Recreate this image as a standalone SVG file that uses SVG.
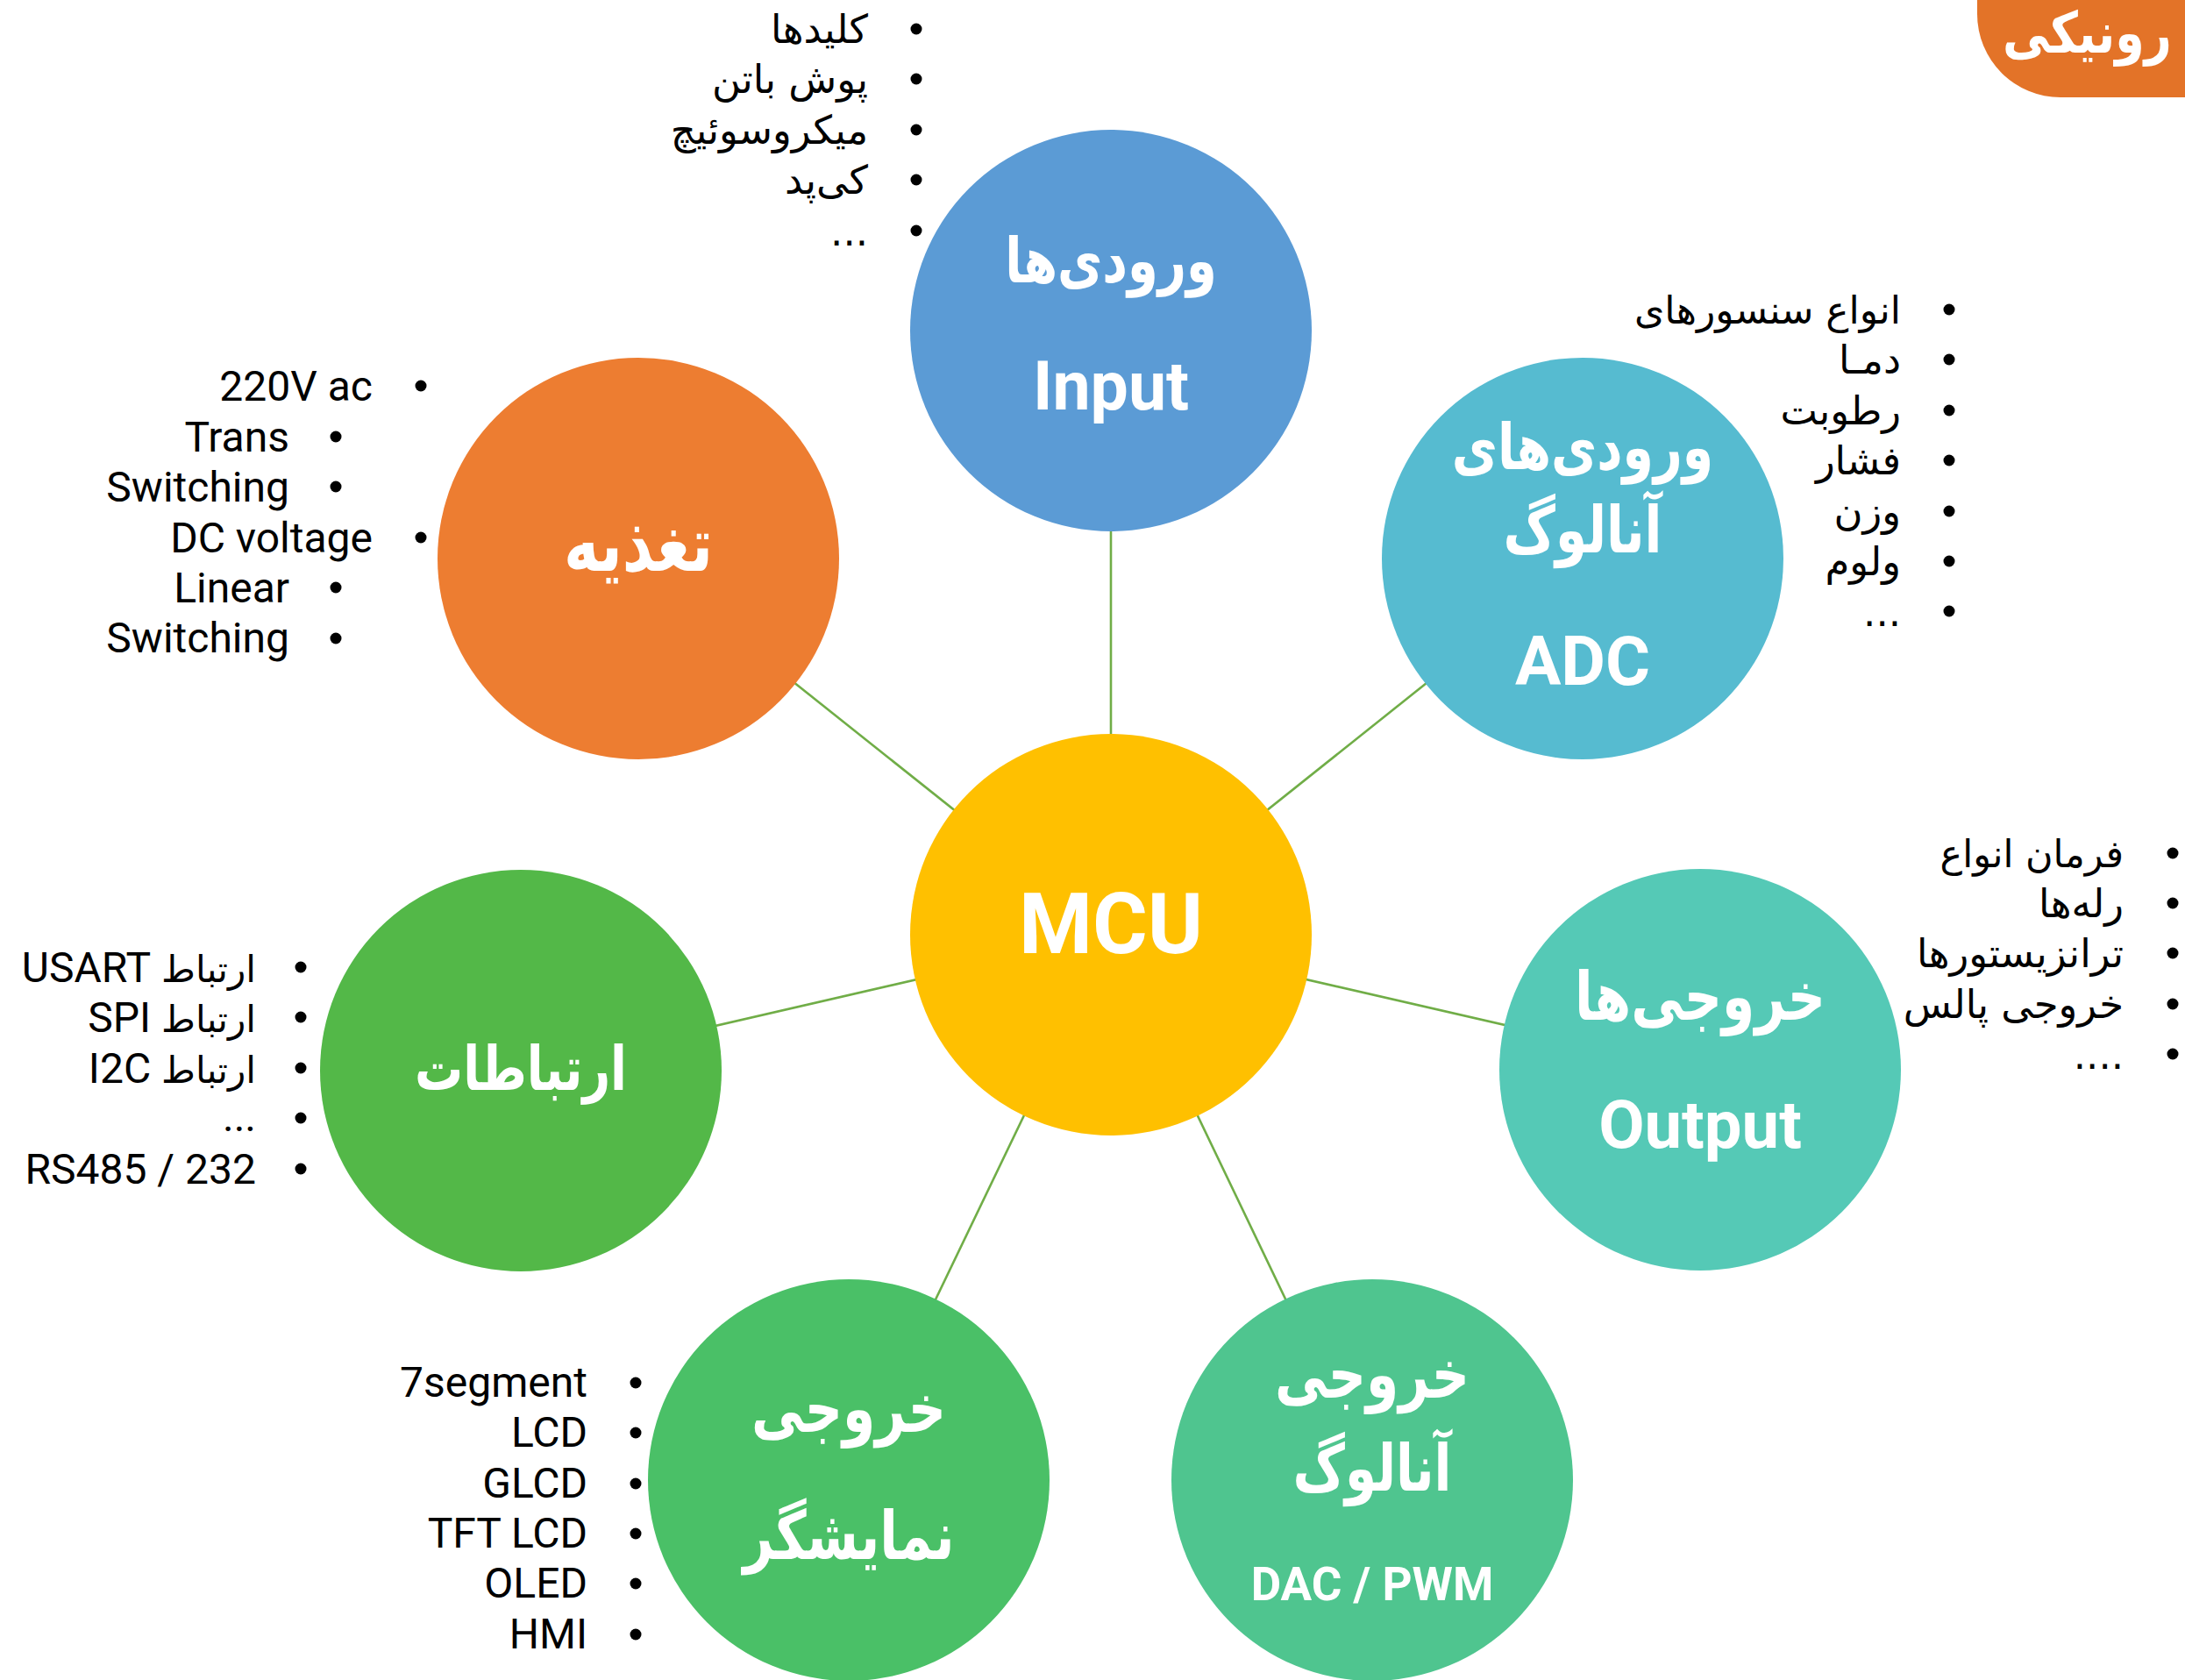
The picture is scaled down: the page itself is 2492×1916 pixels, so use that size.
<svg xmlns="http://www.w3.org/2000/svg" width="2492" height="1916" viewBox="0 0 2492 1916">
<style>
.bg{fill:#ffffff}
.conn{stroke:#70AD47;stroke-width:2.6;fill:none}
.li{font-family:Roboto,"DejaVu Sans",sans-serif;font-size:48px;fill:#000}
.fa{font-family:"DejaVu Sans",Roboto,sans-serif;font-size:45px;fill:#000}
.fs{font-family:"DejaVu Sans",sans-serif;font-size:42px}
.rtl{direction:rtl;unicode-bidi:embed;text-anchor:start}
.ltr{text-anchor:end}
.b{fill:#000}
.tl{font-family:Roboto,"DejaVu Sans",sans-serif;font-weight:700;fill:#fff;text-anchor:middle}
.tf{font-family:"DejaVu Sans",sans-serif;font-weight:700;fill:#fff;text-anchor:middle;font-size:60px}
</style>
<rect class="bg" x="0" y="0" width="2492" height="1916"/>

<g id="title-tab">
<rect x="2255" y="-130" width="420" height="241" rx="95" fill="#E37328"/>
<text transform="translate(2284,60) scale(1,1.2)" font-family="DejaVu Sans,sans-serif" font-weight="700" font-size="54" fill="#fff" style="direction:rtl;unicode-bidi:embed" text-anchor="end">رونیکی</text>
</g>

<g id="connectors">
<line class="conn" x1="1267" y1="1066" x2="1267" y2="377"/>
<line class="conn" x1="1267" y1="1066" x2="728" y2="637"/>
<line class="conn" x1="1267" y1="1066" x2="1805" y2="637"/>
<line class="conn" x1="1267" y1="1066" x2="594" y2="1221"/>
<line class="conn" x1="1267" y1="1066" x2="1939" y2="1220"/>
<line class="conn" x1="1267" y1="1066" x2="968" y2="1688"/>
<line class="conn" x1="1267" y1="1066" x2="1565" y2="1688"/>
</g>

<g id="node-input">
<circle cx="1267" cy="377" r="229" fill="#5B9BD5"/>
<text class="tf" transform="translate(1267,322) scale(1,1.28)" style="font-size:56px">ورودی‌ها</text>
<text class="tl" x="1267" y="467" font-size="77">Input</text>
</g>

<g id="node-power">
<circle cx="728" cy="637" r="229" fill="#ED7D31"/>
<text class="tf" transform="translate(728,651) scale(1,1.28)" style="font-size:68px">تغذیه</text>
</g>

<g id="node-adc">
<circle cx="1805" cy="637" r="229" fill="#56BBD0"/>
<text class="tf" transform="translate(1805,535) scale(1,1.28)" style="font-size:57px">ورودی‌های</text>
<text class="tf" transform="translate(1805,630) scale(1,1.28)" style="font-size:58px">آنالوگ</text>
<text class="tl" x="1805" y="781" font-size="78">ADC</text>
</g>

<g id="node-mcu">
<circle cx="1267" cy="1066" r="229" fill="#FFC000"/>
<text class="tl" x="1267" y="1087" font-size="96">MCU</text>
</g>

<g id="node-comms">
<circle cx="594" cy="1221" r="229" fill="#53B848"/>
<text class="tf" transform="translate(594,1243) scale(1,1.28)" style="font-size:55px">ارتباطات</text>
</g>

<g id="node-output">
<circle cx="1939" cy="1220" r="229" fill="#55C9B6"/>
<text class="tf" transform="translate(1939,1163) scale(1,1.28)" style="font-size:60px">خروجی‌ها</text>
<text class="tl" x="1939" y="1309" font-size="76">Output</text>
</g>

<g id="node-display">
<circle cx="968" cy="1688" r="229" fill="#4AC067"/>
<text class="tf" transform="translate(968,1633) scale(1,1.28)" style="font-size:60px">خروجی</text>
<text class="tf" transform="translate(968,1778) scale(1,1.28)" style="font-size:60px">نمایشگر</text>
</g>

<g id="node-analog-out">
<circle cx="1565" cy="1688" r="229" fill="#4FC58F"/>
<text class="tf" transform="translate(1565,1594) scale(1,1.28)" style="font-size:60px">خروجی</text>
<text class="tf" transform="translate(1565,1700) scale(1,1.28)" style="font-size:58px">آنالوگ</text>
<text class="tl" x="1565" y="1825" font-size="53">DAC / PWM</text>
</g>

<g id="list-input">
<circle class="b" cx="1045" cy="33" r="6.5"/>
<circle class="b" cx="1045" cy="90" r="6.5"/>
<circle class="b" cx="1045" cy="148" r="6.5"/>
<circle class="b" cx="1045" cy="205" r="6.5"/>
<circle class="b" cx="1045" cy="263" r="6.5"/>
<text class="fa rtl" x="990" y="49">کلیدها</text>
<text class="fa rtl" x="990" y="106">پوش باتن</text>
<text class="fa rtl" x="990" y="164">میکروسوئیچ</text>
<text class="fa rtl" x="990" y="221">کی‌پد</text>
<text class="fa rtl" x="990" y="280">...</text>
</g>

<g id="list-power">
<circle class="b" cx="480" cy="440" r="6.5"/>
<circle class="b" cx="383" cy="498" r="6.5"/>
<circle class="b" cx="383" cy="555" r="6.5"/>
<circle class="b" cx="480" cy="613" r="6.5"/>
<circle class="b" cx="383" cy="670" r="6.5"/>
<circle class="b" cx="383" cy="728" r="6.5"/>
<text class="li ltr" x="425" y="457">220V ac</text>
<text class="li ltr" x="330" y="515">Trans</text>
<text class="li ltr" x="330" y="572">Switching</text>
<text class="li ltr" x="425" y="630">DC voltage</text>
<text class="li ltr" x="330" y="687">Linear</text>
<text class="li ltr" x="330" y="744">Switching</text>
</g>

<g id="list-adc">
<circle class="b" cx="2223" cy="353" r="6.5"/>
<circle class="b" cx="2223" cy="410" r="6.5"/>
<circle class="b" cx="2223" cy="468" r="6.5"/>
<circle class="b" cx="2223" cy="525" r="6.5"/>
<circle class="b" cx="2223" cy="583" r="6.5"/>
<circle class="b" cx="2223" cy="640" r="6.5"/>
<circle class="b" cx="2223" cy="697" r="6.5"/>
<text class="fa rtl" x="2168" y="369" style="font-size:44px">انواع سنسورهای</text>
<text class="fa rtl" x="2168" y="426">دمـا</text>
<text class="fa rtl" x="2168" y="484">رطوبت</text>
<text class="fa rtl" x="2168" y="541">فشار</text>
<text class="fa rtl" x="2168" y="599">وزن</text>
<text class="fa rtl" x="2168" y="656">ولوم</text>
<text class="fa rtl" x="2168" y="714">...</text>
</g>

<g id="list-output">
<circle class="b" cx="2478" cy="973" r="6.5"/>
<circle class="b" cx="2478" cy="1030" r="6.5"/>
<circle class="b" cx="2478" cy="1087" r="6.5"/>
<circle class="b" cx="2478" cy="1145" r="6.5"/>
<circle class="b" cx="2478" cy="1202" r="6.5"/>
<text class="fa rtl" x="2422" y="989" style="font-size:43px">فرمان انواع</text>
<text class="fa rtl" x="2422" y="1046">رله‌ها</text>
<text class="fa rtl" x="2422" y="1103">ترانزیستورها</text>
<text class="fa rtl" x="2422" y="1161">خروجی پالس</text>
<text class="fa rtl" x="2422" y="1219">....</text>
</g>

<g id="list-comms">
<circle class="b" cx="343" cy="1103" r="6.5"/>
<circle class="b" cx="343" cy="1160" r="6.5"/>
<circle class="b" cx="343" cy="1218" r="6.5"/>
<circle class="b" cx="343" cy="1275" r="6.5"/>
<circle class="b" cx="343" cy="1333" r="6.5"/>
<text class="li rtl" x="292" y="1120"><tspan class="fs">ارتباط</tspan> USART</text>
<text class="li rtl" x="292" y="1177"><tspan class="fs">ارتباط</tspan> SPI</text>
<text class="li rtl" x="292" y="1235"><tspan class="fs">ارتباط</tspan> I2C</text>
<text class="li rtl" x="292" y="1290">...</text>
<text class="li rtl" x="292" y="1350">RS485 / 232</text>
</g>

<g id="list-display">
<circle class="b" cx="725" cy="1577" r="6.5"/>
<circle class="b" cx="725" cy="1634" r="6.5"/>
<circle class="b" cx="725" cy="1692" r="6.5"/>
<circle class="b" cx="725" cy="1749" r="6.5"/>
<circle class="b" cx="725" cy="1806" r="6.5"/>
<circle class="b" cx="725" cy="1864" r="6.5"/>
<text class="li ltr" x="670" y="1593">7segment</text>
<text class="li ltr" x="670" y="1650">LCD</text>
<text class="li ltr" x="670" y="1708">GLCD</text>
<text class="li ltr" x="670" y="1765">TFT LCD</text>
<text class="li ltr" x="670" y="1822">OLED</text>
<text class="li ltr" x="670" y="1880">HMI</text>
</g>
</svg>
